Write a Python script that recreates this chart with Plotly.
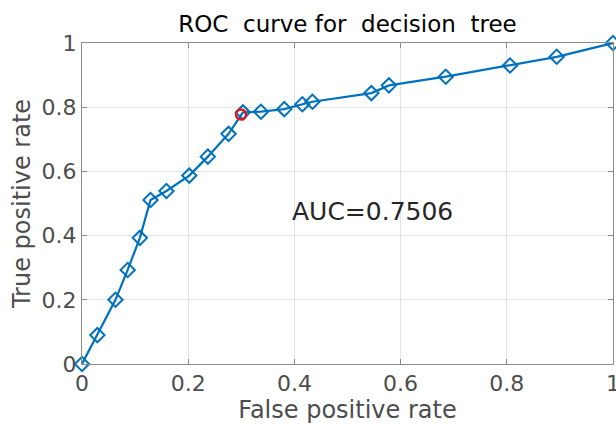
import plotly.graph_objects as go

fpr = [0, 0.029, 0.063, 0.086, 0.109, 0.129, 0.159, 0.202, 0.237, 0.276, 0.303,
       0.337, 0.381, 0.415, 0.434, 0.545, 0.578, 0.685, 0.806, 0.894, 1.0]
tpr = [0, 0.09, 0.20, 0.293, 0.393, 0.511, 0.539, 0.587, 0.646, 0.717, 0.784,
       0.786, 0.794, 0.809, 0.817, 0.844, 0.868, 0.895, 0.93, 0.957, 1.0]
opt_x = [0.2995]
opt_y = [0.777]
auc_text = "AUC=0.7506"
tick_vals = [0, 0.2, 0.4, 0.6, 0.8, 1]
tick_text = ["0", "0.2", "0.4", "0.6", "0.8", "1"]

FONT = "DejaVu Sans, Liberation Sans, Arial"

fig = go.Figure()
fig.add_trace(go.Scatter(
    x=fpr, y=tpr, mode="lines+markers",
    line=dict(color="#0072BD", width=2.2),
    marker=dict(symbol="diamond-open", size=11, color="#0072BD", line=dict(width=2)),
    cliponaxis=False, showlegend=False))
fig.add_trace(go.Scatter(
    x=opt_x, y=opt_y, mode="markers",
    marker=dict(symbol="circle-open", size=10, color="#E8141B", line=dict(width=2.5)),
    cliponaxis=False, showlegend=False))

fig.add_annotation(x=0.548, y=0.475, text=auc_text, showarrow=False,
                   font=dict(size=25, color="#262626", family=FONT))

axis_common = dict(
    range=[0, 1], tickvals=tick_vals, ticktext=tick_text,
    showgrid=True, gridcolor="#E3E3E3", gridwidth=1,
    showline=True, linecolor="#8C8C8C", linewidth=1, mirror="ticks",
    ticks="inside", ticklen=5, tickcolor="#8C8C8C",
    zeroline=False, ticklabeloverflow="allow", automargin=False,
    tickfont=dict(size=22, color="#4D4D4D", family=FONT),
)

fig.update_xaxes(**axis_common,
                 title=dict(text="False positive rate", standoff=4,
                            font=dict(size=24, color="#4D4D4D", family=FONT)))
fig.update_yaxes(**axis_common,
                 title=dict(text="True positive rate", standoff=4,
                            font=dict(size=24, color="#4D4D4D", family=FONT)))

fig.update_layout(
    width=616, height=433,
    margin=dict(l=82, r=3, t=43, b=69),
    paper_bgcolor="white", plot_bgcolor="white",
    title=dict(text="ROC&nbsp; curve for&nbsp; decision&nbsp; tree",
               x=0.5, xref="paper", xanchor="center",
               y=0.945, yref="container", yanchor="middle",
               font=dict(size=23, color="#000000", family=FONT)),
)

fig.write_html("out.html", config={"displayModeBar": False},
               post_script="document.body.style.margin='0px';")
